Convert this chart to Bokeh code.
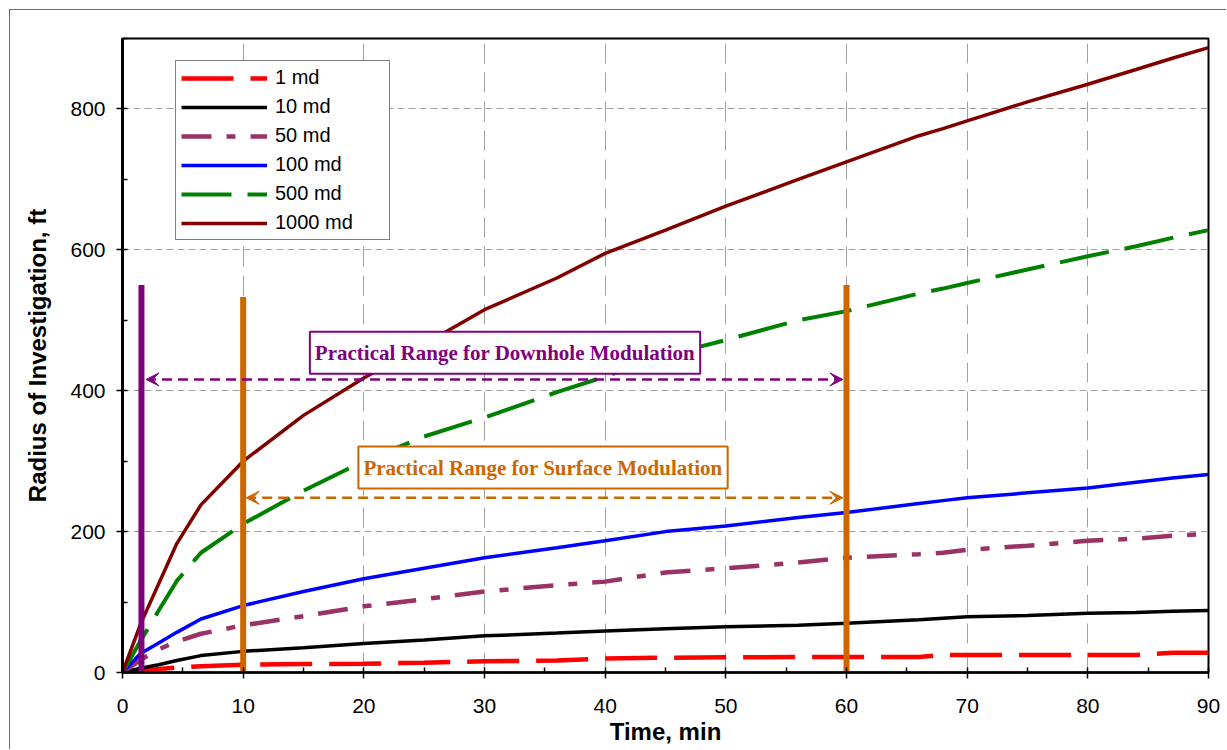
from bokeh.plotting import figure
from bokeh.models import (Legend, LegendItem, Label, Arrow, VeeHead,
                          SingleIntervalTicker, Range1d, ColumnDataSource)
from bokeh.embed import file_html
from bokeh.resources import INLINE

# ---- data ----
time_min = [0, 1.5, 3, 4.5, 6.5, 10, 15, 20, 25, 30, 36, 40, 45, 50, 56, 60,
            66, 68, 70, 75, 80, 84, 87, 90]
r_1md = [0, 2, 5, 7, 9, 11, 12, 12.5, 14, 16, 17, 20, 21, 21.5, 22, 22,
         22, 25, 25, 25, 25, 25, 28, 28]
r_10md = [0, 6, 11, 17, 24, 30, 35, 41, 46, 52, 56, 59, 62, 65, 67, 70,
          75, 77, 79, 81, 84, 85, 87, 88]
r_50md = [0, 18, 33, 44, 55, 67, 80, 94, 104, 115, 124, 129, 142, 148, 156, 163,
          168, 170, 174, 180, 187, 190, 194, 197]
r_100md = [0, 27, 42, 57, 76, 95, 115, 133, 148, 163, 177, 187, 200, 208, 220, 227,
           240, 244, 248, 255, 262, 270, 276, 281]
r_500md = [0, 45, 88, 130, 170, 211, 258, 300, 335, 362, 398, 420, 450, 472, 500, 513,
           538, 545, 553, 572, 591, 605, 617, 628]
r_1000md = [0, 69, 126, 183, 238, 300, 365, 418, 466, 515, 560, 595, 628, 662, 700, 725,
            762, 772, 783, 810, 835, 856, 872, 887]

series_labels = ["1 md", "10 md", "50 md", "100 md", "500 md", "1000 md"]
series_values = [r_1md, r_10md, r_50md, r_100md, r_500md, r_1000md]
series_colors = ["#FF0000", "#000000", "#993366", "#0000FF", "#008000", "#800000"]
series_dash = ["52 17", "solid", "30 15 9 15", "solid", "50 16", "solid"]
series_width = [4.5, 3.5, 4.5, 3.5, 4.0, 3.5]

# practical-range markers
marker_x = [1.57, 10, 60]
marker_top = [550, 533, 550]
marker_colors = ["#800080", "#CC6600", "#CC6600"]

downhole_text = "Practical Range for Downhole Modulation"
surface_text = "Practical Range for Surface Modulation"

p = figure(width=1217, height=740, output_backend="svg", toolbar_location=None,
           x_range=Range1d(0, 90), y_range=Range1d(0, 900),
           min_border_left=112, min_border_right=19, min_border_top=28,
           min_border_bottom=78, background_fill_color="white",
           border_fill_color="white")
p.styles = {"margin-left": "9px", "margin-top": "9px",
            "border-left": "1px solid #6b6b6b", "border-top": "1px solid #6b6b6b"}

p.outline_line_color = "black"
p.outline_line_width = 2

xt = SingleIntervalTicker(interval=10, num_minor_ticks=2)
yt = SingleIntervalTicker(interval=200, num_minor_ticks=2)
p.xaxis.ticker = xt
p.yaxis.ticker = yt
p.xgrid.ticker = xt
p.ygrid.ticker = yt
p.xgrid.grid_line_color = "#a0a0a0"
p.xgrid.grid_line_dash = "20 9"
p.xgrid.grid_line_width = 1
p.ygrid.grid_line_color = "#a0a0a0"
p.ygrid.grid_line_dash = "7 4"
p.ygrid.grid_line_width = 1

for ax in (p.xaxis[0], p.yaxis[0]):
    ax.axis_line_color = "black"
    ax.major_tick_line_color = "black"
    ax.minor_tick_line_color = "black"
    ax.major_tick_out = 6
    ax.major_tick_in = 0
    ax.minor_tick_out = 0
    ax.minor_tick_in = 5
    ax.major_tick_line_width = 1.5
    ax.minor_tick_line_width = 1.5
    ax.major_label_text_font = "Liberation Sans"
    ax.major_label_text_font_size = "21px"
    ax.major_label_text_color = "black"
    ax.axis_label_text_font = "Liberation Sans"
    ax.axis_label_text_font_style = "bold"
    ax.axis_label_text_font_size = "24px"
    ax.axis_label_text_color = "black"

p.yaxis.axis_line_width = 3
p.xaxis.axis_line_width = 2.5
p.xaxis.axis_label = "Time, min"
p.yaxis.axis_label = "Radius of Investigation, ft"
p.xaxis.major_label_standoff = 20
p.yaxis.major_label_standoff = 11
p.xaxis.axis_label_standoff = 2
p.yaxis.axis_label_standoff = 16

renderers = []
for lab, vals, col, dash, w in zip(series_labels, series_values, series_colors,
                                   series_dash, series_width):
    src = ColumnDataSource(dict(t=time_min, r=vals))
    r = p.line("t", "r", source=src, line_color=col, line_width=w, line_dash=dash)
    renderers.append(r)

msrc = ColumnDataSource(dict(x=marker_x, y0=[0] * len(marker_x), top=marker_top,
                             c=marker_colors))
p.segment(x0="x", y0="y0", x1="x", y1="top", source=msrc, line_color="c",
          line_width=6)

# arrows
p.add_layout(Arrow(x_start=1.95, y_start=416, x_end=59.7, y_end=416,
                   line_color="#800080", line_width=2.5, line_dash="10 6",
                   start=VeeHead(size=13, fill_color="#800080", line_color="#800080"),
                   end=VeeHead(size=13, fill_color="#800080", line_color="#800080")))
p.add_layout(Arrow(x_start=10.25, y_start=248, x_end=59.7, y_end=248,
                   line_color="#CC6600", line_width=2.5, line_dash="10 6",
                   start=VeeHead(size=13, fill_color="#CC6600", line_color="#CC6600"),
                   end=VeeHead(size=13, fill_color="#CC6600", line_color="#CC6600")))

p.add_layout(Label(x=31.7, y=454, text=downhole_text, text_align="center",
                   text_baseline="middle", text_font="Liberation Serif",
                   text_font_style="bold", text_font_size="21px",
                   text_color="#800080", border_line_color="#800080",
                   border_line_width=2, background_fill_color="white",
                   padding=dict(left=5, right=5, top=9, bottom=9)))
p.add_layout(Label(x=34.85, y=291, text=surface_text, text_align="center",
                   text_baseline="middle", text_font="Liberation Serif",
                   text_font_style="bold", text_font_size="21px",
                   text_color="#CC6600", border_line_color="#CC6600",
                   border_line_width=2, background_fill_color="white",
                   padding=dict(left=5, right=5, top=9, bottom=9)))

legend = Legend(items=[LegendItem(label=l, renderers=[r])
                       for l, r in zip(series_labels, renderers)],
                location=(53, 432), margin=0, padding=5, spacing=6,
                glyph_width=86, glyph_height=20, label_height=20,
                label_width=109, label_standoff=8,
                label_text_font="Liberation Sans", label_text_font_size="20px",
                label_text_color="black",
                border_line_color="black", border_line_width=1.5,
                background_fill_color="white", background_fill_alpha=1)
p.add_layout(legend)

open("out.html", "w").write(file_html(p, INLINE))
